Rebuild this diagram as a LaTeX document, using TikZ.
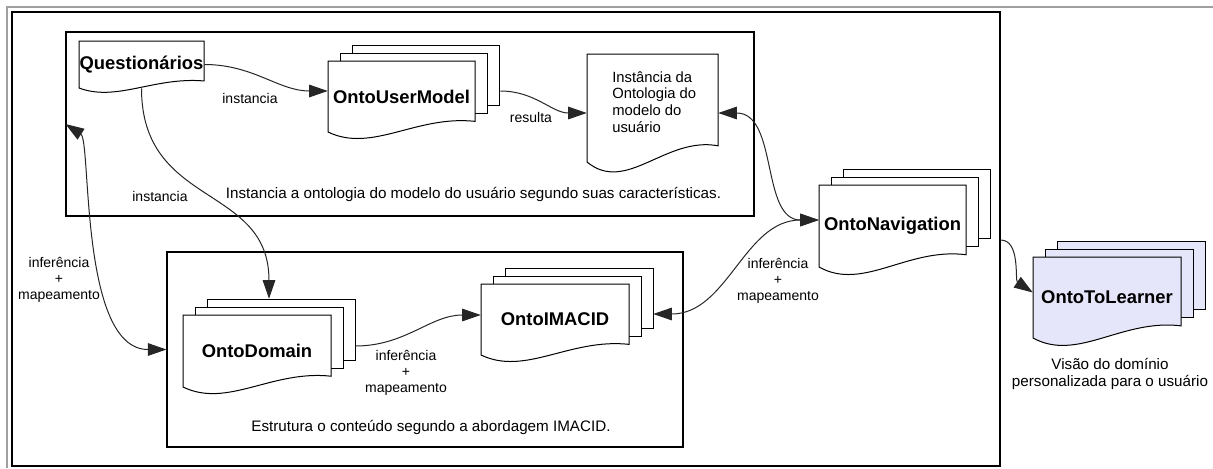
\documentclass[tikz,border=0pt]{standalone}
\usepackage{fontspec}
\setmainfont{Liberation Sans}
\usetikzlibrary{arrows.meta,calc}
\definecolor{lav}{RGB}{230,230,250}
\tikzset{
  docline/.style={draw=black, line width=0.75pt},
  docnode/.style={inner sep=0pt, font=\bfseries\fontsize{13.8}{16}\selectfont},
  groupbox/.style={draw=black, line width=0.85pt, inner sep=0pt},
  lbl/.style={font=\fontsize{10.5}{12}\selectfont, align=center, inner sep=0pt},
  desc/.style={font=\fontsize{11.4}{12.75}\selectfont, align=center, inner sep=0pt},
  tip/.tip={Triangle[length=14pt,width=9.5pt]},
  conn/.style={draw=black!85, line width=0.75pt, -tip},
  biconn/.style={draw=black!85, line width=0.75pt, tip-tip},
}
% \mdoc{name}{left}{top}{width}{height}{extra pages}{fill}{title}
% draws a (multi-)document shape; the node covers the front page
\newcommand\mdoc[8]{%
  \pgfmathsetmacro\mdR{#2+#4}%
  \pgfmathsetmacro\mdB{#3+#5}%
  \pgfmathsetmacro\mdRB{#3+0.85*#5}%
  \ifnum#6>0
    \foreach \k in {#6,...,1}{%
      \filldraw[docline,fill=#7] (#2+\k*12,#3-\k*8) rectangle (\mdR+\k*12,\mdRB-\k*8);
    }%
  \fi
  \filldraw[docline,fill=#7] (#2,#3) -- (\mdR,#3) -- (\mdR,\mdRB)
    .. controls (#2+0.6*#4,\mdB-0.24*#5) and (#2+0.3*#4,\mdB+0.3*#5) .. (#2,\mdB) -- cycle;
  \node[docnode,minimum width=#4*0.75pt,minimum height=#5*0.75pt] (#1) at (#2+0.5*#4,#3+0.5*#5) {#8};
}
\begin{document}
\begin{tikzpicture}[x=0.75pt,y=-0.75pt]
\useasboundingbox (0,0) rectangle (1213,468);

% outer gray border
\draw[gray!75, line width=0.9pt] (7,468) -- (7,7) -- (1213,7);

% group frames
\node[groupbox, minimum width=988*0.75pt, minimum height=454*0.75pt] (main) at (506,239) {};
\node[groupbox, minimum width=688*0.75pt, minimum height=184*0.75pt] (ubox) at (410,124) {};
\node[groupbox, minimum width=516*0.75pt, minimum height=195*0.75pt] (dbox) at (425,349.5) {};

% documents
\mdoc{quest}{79}{41}{125}{47}{0}{white}{Questionários}
\mdoc{oum}{328}{61}{147}{71}{2}{white}{OntoUserModel}
\mdoc{inst}{587}{54}{131}{108}{0}{white}{}
\node[anchor=west, align=left, inner sep=0pt, font=\fontsize{11.1}{12.5}\selectfont] (insttext) at (612,102)
  {Instância da\\Ontologia do\\modelo do\\usuário};
\mdoc{dom}{183}{315}{148}{72}{2}{white}{OntoDomain}
\mdoc{imacid}{481}{284}{148}{71}{2}{white}{OntoIMACID}
\mdoc{nav}{819}{185}{147}{82}{2}{white}{OntoNavigation}
\mdoc{tol}{1033}{257}{148}{81}{2}{lav}{OntoToLearner}

% group descriptions
\node[desc] (utext) at (473.5,194) {Instancia a ontologia do modelo do usuário segundo suas características.};
\node[desc] (dtext) at (431,427) {Estrutura o conteúdo segundo a abordagem IMACID.};
\node[desc] (tlcap) at (1110,374) {Visão do domínio\\personalizada para o usuário};

% connectors
\draw[conn] (quest.east) to[out=0,in=180] ($(oum.west)+(0,-5.5)$);
\node[lbl] (l1) at (250,98) {instancia};

\draw[conn] ($(oum.east)+(25,-5.5)$) to[out=0,in=180] ($(inst.west)+(0,5)$);
\node[lbl] (l2) at (531,117) {resulta};

\draw[conn] (quest.south) .. controls +(0,120) and +(0,-115) .. ($(dom.north)+(12,-16)$);
\node[lbl] (l3) at (160,196) {instancia};

\draw[biconn] (ubox.west) .. controls +(26,17) and +(-87,0) .. (dbox.west);
\node[lbl] (l4) at (59,280) {inferência\\+\\mapeamento};

\draw[conn] ($(dom.east)+(24,-5)$) to[out=0,in=180] ($(imacid.west)+(0,-4.5)$);
\node[lbl] (l5) at (406,373) {inferência\\+\\mapeamento};

\draw[biconn] ($(imacid.east)+(24,-5.5)$) to[out=0,in=180] ($(nav.west)+(0,-6)$);
\node[lbl] (l6) at (778,281) {inferência\\+\\mapeamento};

\draw[biconn] ($(inst.east)+(0,5)$) .. controls +(60,0) and +(-58,0) .. ($(nav.west)+(0,-6)$);

\draw[conn] ($(main.east)+(0,1)$) .. controls +(20,0) and +(-18,-12) .. ($(tol.west)+(0,-5)$);
\end{tikzpicture}
\end{document}
